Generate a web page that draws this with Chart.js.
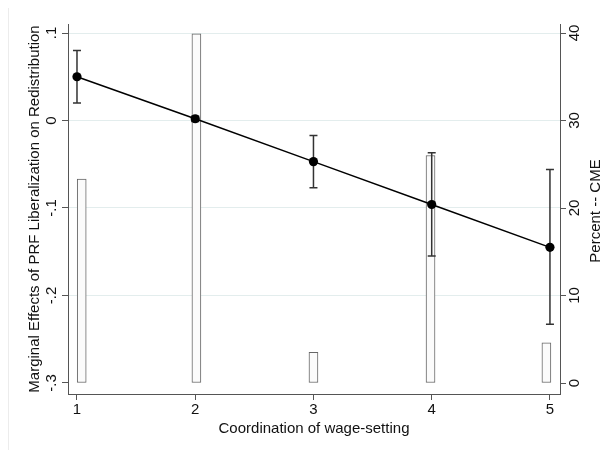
<!DOCTYPE html>
<html>
<head>
<meta charset="utf-8">
<script src="https://cdn.jsdelivr.net/npm/chart.js@4.4.1/dist/chart.umd.min.js"></script>
<style>
  html, body { margin: 0; padding: 0; background: #fff; }
  #wrap { width: 613px; height: 450px; position: relative; }
</style>
</head>
<body>
<div id="wrap"><canvas id="c" width="613" height="450"></canvas></div>
<script>
// Coordination levels and the histogram of CME shares (right axis)
const coordLevels = [1, 2, 3, 4, 5];
const binMid = [1.04, 2.01, 3.0, 3.99, 4.97];
const percentCME = [23.3, 39.9, 3.5, 26.0, 4.6];

// Marginal effect of PRF liberalization with confidence bounds (left axis)
const marginalEffect = [0.050, 0.002, -0.047, -0.096, -0.145];
const ciLower = [0.020, -0.001, -0.077, -0.155, -0.233];
const ciUpper = [0.080, 0.005, -0.017, -0.037, -0.056];

// Axis ticks and titles
const effectTicks = [-0.3, -0.2, -0.1, 0, 0.1];
const effectTickLabels = ['-.3', '-.2', '-.1', '0', '.1'];
const percentTicks = [0, 10, 20, 30, 40];
const xTitle = 'Coordination of wage-setting';
const yTitle = 'Marginal Effects of PRF Liberalization on Redistribution';
const y2Title = 'Percent -- CME';

const FONT = '15px "Liberation Sans", Arial, Helvetica, sans-serif';
const TEXT = '#111111';
const AXIS = '#555555';

function drawErrorBars(chart) {
  const ctx = chart.ctx;
  const xs = chart.scales.x, ys = chart.scales.y;
  ctx.save();
  ctx.strokeStyle = '#333333';
  ctx.lineWidth = 1.5;
  const cap = 4;
  coordLevels.forEach((lv, i) => {
    const px = xs.getPixelForValue(lv);
    const top = ys.getPixelForValue(ciUpper[i]);
    const bot = ys.getPixelForValue(ciLower[i]);
    ctx.beginPath();
    ctx.moveTo(px, top); ctx.lineTo(px, bot);
    ctx.moveTo(px - cap, top); ctx.lineTo(px + cap, top);
    ctx.moveTo(px - cap, bot); ctx.lineTo(px + cap, bot);
    ctx.stroke();
  });
  ctx.restore();
}

function rotatedText(ctx, str, x, y) {
  ctx.save();
  ctx.translate(x, y);
  ctx.rotate(-Math.PI / 2);
  ctx.textAlign = 'center';
  ctx.textBaseline = 'alphabetic';
  ctx.fillText(str, 0, 0);
  ctx.restore();
}

const stataLabels = {
  id: 'stataLabels',
  beforeDraw(chart) {
    // faint graph-region edge on the left
    const ctx = chart.ctx;
    ctx.save();
    ctx.strokeStyle = '#ececec';
    ctx.lineWidth = 1;
    ctx.beginPath();
    ctx.moveTo(8.5, 8); ctx.lineTo(8.5, 450);
    ctx.stroke();
    ctx.restore();
  },
  afterDatasetDraw(chart, args) {
    if (args.index === 0) drawErrorBars(chart);
  },
  afterDraw(chart) {
    const ctx = chart.ctx;
    const { x, y, y2 } = chart.scales;
    const area = chart.chartArea;
    ctx.save();
    ctx.font = FONT;
    ctx.fillStyle = TEXT;

    // left tick labels, vertical
    y.ticks.forEach(t => {
      rotatedText(ctx, effectTickLabels[effectTicks.indexOf(t.value)], 56, y.getPixelForValue(t.value));
    });
    // right tick labels, vertical
    y2.ticks.forEach(t => {
      rotatedText(ctx, String(t.value), 579, y2.getPixelForValue(t.value));
    });
    // x tick labels
    ctx.textAlign = 'center';
    ctx.textBaseline = 'alphabetic';
    x.ticks.forEach(t => {
      ctx.fillText(String(t.value), x.getPixelForValue(t.value), 414);
    });
    // axis titles
    const midY = (area.top + area.bottom) / 2;
    ctx.fillText(xTitle, (area.left + area.right) / 2, 432.5);
    rotatedText(ctx, yTitle, 38.5, midY);
    rotatedText(ctx, y2Title, 600, midY + 2);
    ctx.restore();
  }
};

new Chart(document.getElementById('c'), {
  type: 'bar',
  data: {
    datasets: [
      {
        type: 'bar',
        label: y2Title,
        yAxisID: 'y2',
        order: 2,
        data: binMid.map((m, i) => ({ x: m, y: percentCME[i] })),
        backgroundColor: '#fbfbfb',
        borderColor: '#666666',
        borderWidth: 1,
        borderSkipped: false,
        barThickness: 9,
        grouped: false
      },
      {
        type: 'line',
        label: yTitle,
        yAxisID: 'y',
        order: 1,
        data: coordLevels.map((lv, i) => ({ x: lv, y: marginalEffect[i] })),
        borderColor: '#000000',
        borderWidth: 1.5,
        pointRadius: 4.6,
        pointBackgroundColor: '#000000',
        pointBorderWidth: 0,
        tension: 0,
        fill: false
      }
    ]
  },
  options: {
    responsive: false,
    animation: false,
    devicePixelRatio: 1,
    layout: { padding: { top: 24, left: 0, right: 0, bottom: 0 } },
    plugins: { legend: { display: false }, tooltip: { enabled: false } },
    scales: {
      x: {
        type: 'linear',
        min: 0.924,
        max: 5.085,
        offset: false,
        afterBuildTicks: s => { s.ticks = coordLevels.map(v => ({ value: v })); },
        afterFit: s => { s.height = 56; },
        ticks: { display: false },
        grid: { offset: false, drawOnChartArea: false, drawTicks: true, tickLength: 6, tickColor: AXIS, tickWidth: 1 },
        border: { display: true, color: AXIS, width: 1 }
      },
      y: {
        type: 'linear',
        position: 'left',
        min: -0.3126,
        max: 0.1103,
        afterBuildTicks: s => { s.ticks = effectTicks.map(v => ({ value: v })); },
        afterFit: s => { s.width = 68; },
        ticks: { display: false },
        grid: {
          offset: false,
          drawOnChartArea: true,
          color: c => (c.tick && c.tick.value === -0.3) ? 'rgba(0,0,0,0)' : '#e3eded',
          lineWidth: 1,
          drawTicks: true,
          tickLength: 6,
          tickColor: AXIS,
          tickWidth: 1
        },
        border: { display: true, color: AXIS, width: 1 }
      },
      y2: {
        type: 'linear',
        position: 'right',
        min: -1.257,
        max: 41.03,
        afterBuildTicks: s => { s.ticks = percentTicks.map(v => ({ value: v })); },
        afterFit: s => { s.width = 53; },
        ticks: { display: false },
        grid: { offset: false, drawOnChartArea: false, drawTicks: true, tickLength: 6, tickColor: AXIS, tickWidth: 1 },
        border: { display: true, color: AXIS, width: 1 }
      }
    }
  },
  plugins: [stataLabels]
});
</script>
</body>
</html>
